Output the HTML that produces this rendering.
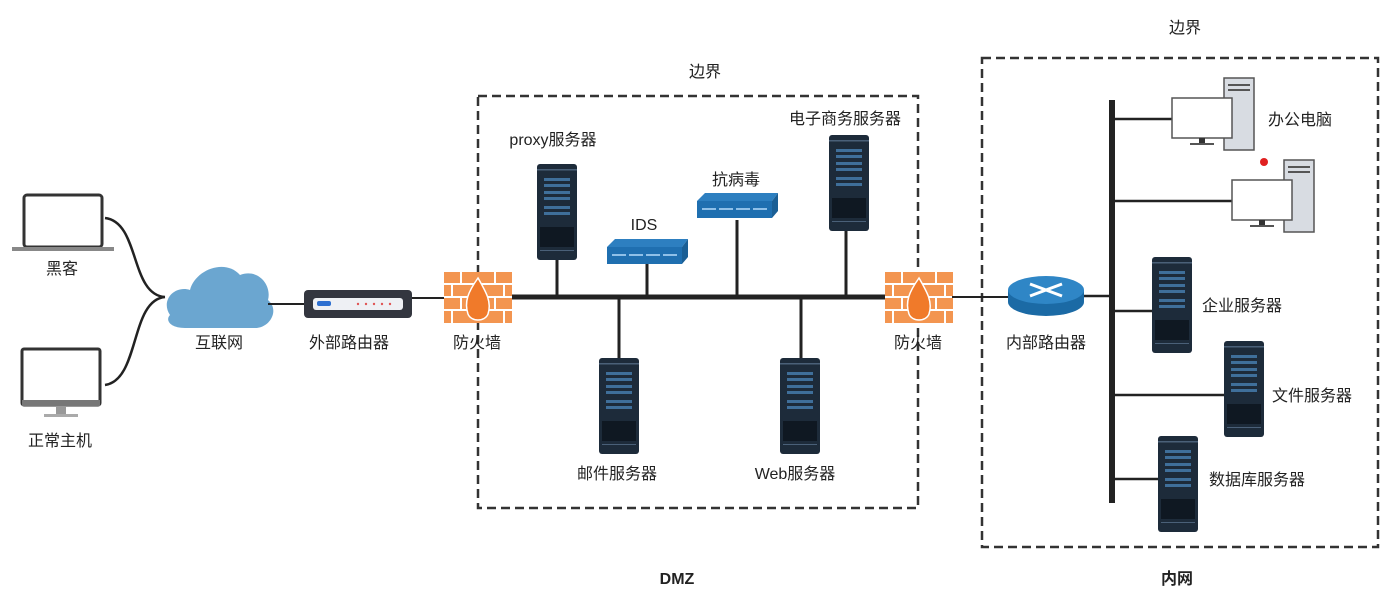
<!DOCTYPE html>
<html><head><meta charset="utf-8"><style>
body{margin:0;background:#fff}
svg{display:block}
text{font-family:"Liberation Sans","Noto Sans CJK SC",sans-serif;font-size:16px;fill:#222}
</style></head><body>
<svg width="1392" height="589" viewBox="0 0 1392 589" xmlns="http://www.w3.org/2000/svg">
<defs>
<g id="srv">
<rect x="0" y="0" width="40" height="96" rx="3" fill="#1d2b3a"/>
<rect x="0" y="5" width="40" height="1.5" fill="#4a6078"/>
<rect x="7" y="14" width="26" height="3" fill="#3f6f9a"/>
<rect x="7" y="20" width="26" height="3" fill="#3f6f9a"/>
<rect x="7" y="27" width="26" height="3" fill="#3f6f9a"/>
<rect x="7" y="33" width="26" height="3" fill="#3f6f9a"/>
<rect x="7" y="42" width="26" height="3" fill="#3f6f9a"/>
<rect x="7" y="48" width="26" height="3" fill="#3f6f9a"/>
<rect x="3" y="63" width="34" height="20" fill="#0f1822"/>
<rect x="3" y="86" width="34" height="1" fill="#4a6078"/>
</g>
<g id="box">
<polygon points="0,8 8,0 81,0 75,8" fill="#2d7fc0"/>
<polygon points="75,8 81,0 81,18 75,25" fill="#1b5f95"/>
<rect x="0" y="8" width="75" height="17" fill="#1f6fb0"/>
<rect x="5" y="15" width="14" height="2" fill="#8fc0e8"/>
<rect x="22" y="15" width="14" height="2" fill="#8fc0e8"/>
<rect x="39" y="15" width="14" height="2" fill="#8fc0e8"/>
<rect x="56" y="15" width="14" height="2" fill="#8fc0e8"/>
</g>
<g id="fw">
<rect x="0" y="0" width="68" height="51" fill="#f39550"/>
<g stroke="#fff" stroke-width="2">
<line x1="0" y1="12" x2="68" y2="12"/><line x1="0" y1="25" x2="68" y2="25"/><line x1="0" y1="38" x2="68" y2="38"/>
<line x1="17" y1="0" x2="17" y2="12"/><line x1="51" y1="0" x2="51" y2="12"/>
<line x1="8" y1="12" x2="8" y2="25"/><line x1="60" y1="12" x2="60" y2="25"/>
<line x1="17" y1="25" x2="17" y2="38"/><line x1="51" y1="25" x2="51" y2="38"/>
<line x1="8" y1="38" x2="8" y2="51"/><line x1="60" y1="38" x2="60" y2="51"/>
</g>
<path d="M34 6 C24 20 20 30 24 42 C27 50 41 50 44 42 C48 30 42 20 34 6 Z" fill="#f07a2a" stroke="#fff" stroke-width="1.5"/>
</g>
<g id="pc">
<rect x="52" y="0" width="30" height="72" fill="#d8dce2" stroke="#555" stroke-width="1.5"/>
<rect x="56" y="6" width="22" height="2" fill="#555"/><rect x="56" y="11" width="22" height="2" fill="#555"/>
<rect x="0" y="20" width="60" height="40" fill="#fff" stroke="#555" stroke-width="1.5"/>
<rect x="27" y="60" width="6" height="5" fill="#333"/><rect x="18" y="65" width="24" height="2" fill="#555"/>
</g>
</defs>

<!-- dashed boxes -->
<rect x="478" y="96" width="440" height="412" fill="none" stroke="#333" stroke-width="2.5" stroke-dasharray="9,5"/>
<rect x="982" y="58" width="396" height="489" fill="none" stroke="#333" stroke-width="2.5" stroke-dasharray="9,5"/>
<text x="705" y="77" text-anchor="middle">边界</text>
<text x="1185" y="33" text-anchor="middle">边界</text>
<text x="677" y="584" text-anchor="middle" font-weight="bold">DMZ</text>
<text x="1177" y="584" text-anchor="middle" font-weight="bold">内网</text>

<!-- left -->
<rect x="24" y="195" width="78" height="52" rx="3" fill="#fff" stroke="#333" stroke-width="3"/>
<rect x="12" y="247" width="102" height="4" fill="#888"/>
<text x="62" y="274" text-anchor="middle">黑客</text>
<rect x="22" y="349" width="78" height="56" rx="2" fill="#fff" stroke="#333" stroke-width="3"/>
<rect x="22" y="400" width="78" height="6" fill="#777"/>
<rect x="56" y="406" width="10" height="8" fill="#999"/><rect x="44" y="414" width="34" height="3" fill="#aaa"/>
<text x="60" y="446" text-anchor="middle">正常主机</text>
<path d="M105 218 C140 222 130 295 165 297 M105 385 C140 380 130 300 165 297" fill="none" stroke="#222" stroke-width="2.5"/>
<path d="M170 315 C160 300 175 285 190 290 C195 270 225 258 240 275 C258 268 272 285 268 300 C280 310 270 328 255 328 L185 328 C170 328 165 320 170 315 Z" fill="#6ba6d0"/>
<text x="219" y="348" text-anchor="middle">互联网</text>
<line x1="268" y1="304" x2="305" y2="304" stroke="#222" stroke-width="2"/>
<rect x="304" y="290" width="108" height="28" rx="4" fill="#33363f"/>
<rect x="313" y="298" width="90" height="12" rx="3" fill="#eef0f4"/>
<rect x="317" y="301" width="14" height="5" rx="2" fill="#2d6fd0"/>
<g fill="#e05555"><circle cx="358" cy="304" r="1.2"/><circle cx="366" cy="304" r="1.2"/><circle cx="374" cy="304" r="1.2"/><circle cx="382" cy="304" r="1.2"/><circle cx="390" cy="304" r="1.2"/></g>
<text x="349" y="348" text-anchor="middle">外部路由器</text>
<line x1="412" y1="298" x2="445" y2="298" stroke="#222" stroke-width="2"/>

<!-- DMZ -->
<line x1="510" y1="297" x2="886" y2="297" stroke="#222" stroke-width="5"/>
<g stroke="#222" stroke-width="3">
<line x1="557" y1="258" x2="557" y2="297"/><line x1="647" y1="262" x2="647" y2="297"/>
<line x1="737" y1="220" x2="737" y2="297"/><line x1="846" y1="230" x2="846" y2="297"/>
<line x1="619" y1="297" x2="619" y2="360"/><line x1="801" y1="297" x2="801" y2="360"/>
</g>
<use href="#fw" x="444" y="272"/>
<use href="#fw" x="885" y="272"/>
<text x="477" y="348" text-anchor="middle">防火墙</text>
<text x="918" y="348" text-anchor="middle">防火墙</text>
<use href="#srv" x="537" y="164"/>
<text x="553" y="145" text-anchor="middle">proxy服务器</text>
<use href="#box" x="607" y="239"/>
<text x="644" y="230" text-anchor="middle">IDS</text>
<use href="#box" x="697" y="193"/>
<text x="736" y="185" text-anchor="middle">抗病毒</text>
<use href="#srv" x="829" y="135"/>
<text x="845" y="124" text-anchor="middle">电子商务服务器</text>
<use href="#srv" x="599" y="358"/>
<text x="617" y="479" text-anchor="middle">邮件服务器</text>
<use href="#srv" x="780" y="358"/>
<text x="795" y="479" text-anchor="middle">Web服务器</text>

<!-- internal -->
<line x1="952" y1="297" x2="1010" y2="297" stroke="#222" stroke-width="2"/>
<ellipse cx="1046" cy="302" rx="38" ry="14" fill="#1b6aa5"/>
<rect x="1008" y="290" width="76" height="12" fill="#1b6aa5"/>
<ellipse cx="1046" cy="290" rx="38" ry="14" fill="#2f86c6"/>
<g stroke="#fff" stroke-width="3"><line x1="1030" y1="284" x2="1062" y2="296"/><line x1="1062" y1="284" x2="1030" y2="296"/></g>
<text x="1046" y="348" text-anchor="middle">内部路由器</text>
<line x1="1084" y1="296" x2="1112" y2="296" stroke="#222" stroke-width="2.5"/>
<line x1="1112" y1="100" x2="1112" y2="503" stroke="#222" stroke-width="6"/>
<g stroke="#222" stroke-width="2.5">
<line x1="1112" y1="119" x2="1172" y2="119"/><line x1="1112" y1="201" x2="1233" y2="201"/>
<line x1="1112" y1="311" x2="1153" y2="311"/><line x1="1112" y1="395" x2="1225" y2="395"/>
<line x1="1112" y1="479" x2="1159" y2="479"/>
</g>
<use href="#pc" x="1172" y="78"/>
<text x="1268" y="125">办公电脑</text>
<use href="#pc" x="1232" y="160"/>
<circle cx="1264" cy="162" r="4" fill="#e02020"/>
<use href="#srv" x="1152" y="257"/>
<text x="1202" y="311">企业服务器</text>
<use href="#srv" x="1224" y="341"/>
<text x="1272" y="401">文件服务器</text>
<use href="#srv" x="1158" y="436"/>
<text x="1209" y="485">数据库服务器</text>
</svg>
</body></html>
